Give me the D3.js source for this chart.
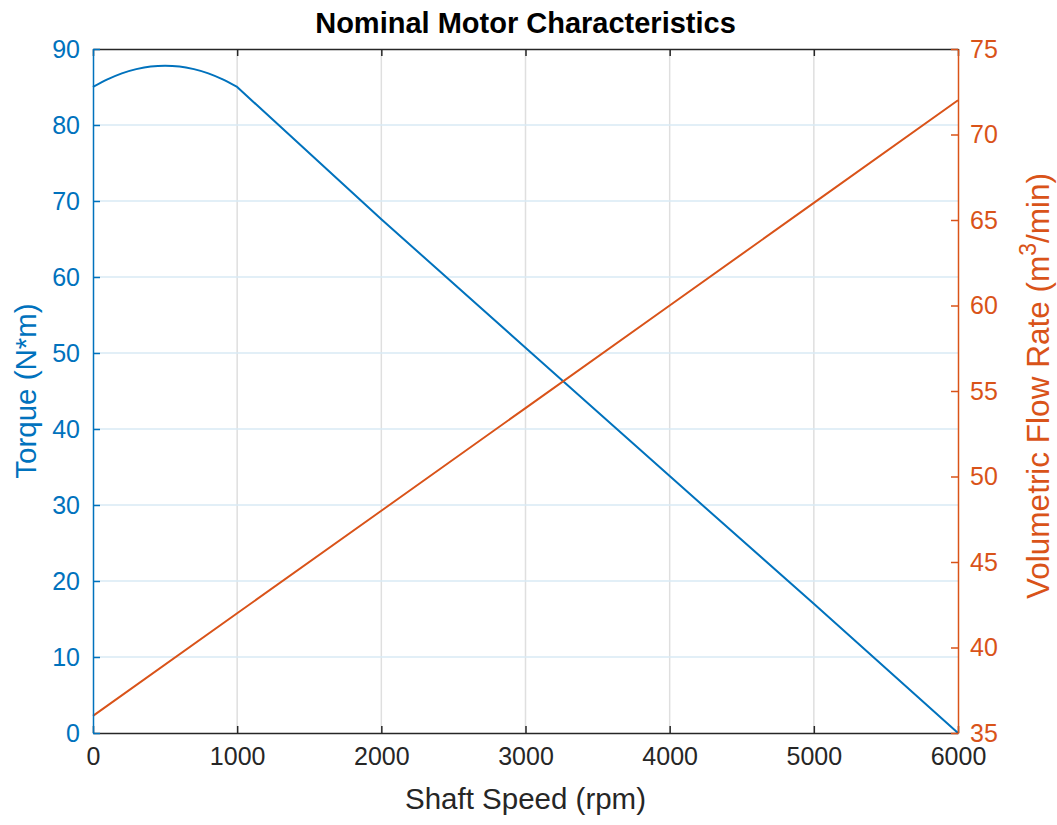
<!DOCTYPE html>
<html>
<head>
<meta charset="utf-8">
<script src="https://cdn.jsdelivr.net/npm/d3@7"></script>
<style>
  html, body { margin: 0; padding: 0; background: #fff; }
  svg { display: block; font-family: "Liberation Sans", Arial, Helvetica, sans-serif; }
</style>
</head>
<body>
<svg id="chart" width="1057" height="825"></svg>
<script>
// ---- data ----
const speed = [0, 100, 200, 300, 400, 500, 600, 700, 800, 900, 1000, 2000, 3000, 4000, 5000, 6000];
const torque = [85, 86.0, 86.8, 87.35, 87.7, 87.8, 87.7, 87.35, 86.8, 86.0, 85, 67.6, 50.7, 33.8, 17, 0];
const flowSpeed = [0, 1000, 2000, 3000, 4000, 5000, 6000];
const flow = [36, 42, 48, 54, 60, 66, 72];
const xTicks = [0, 1000, 2000, 3000, 4000, 5000, 6000];
const yLeftTicks = [0, 10, 20, 30, 40, 50, 60, 70, 80, 90];
const yRightTicks = [35, 40, 45, 50, 55, 60, 65, 70, 75];
const titleText = "Nominal Motor Characteristics";
const xLabel = "Shaft Speed (rpm)";
const yLeftLabel = "Torque (N*m)";

// ---- layout ----
const L = 93, R = 958, T = 49, B = 733;
const blue = "#0072BD", orange = "#D95319", dark = "#262626";
const tickFont = 25, labelFont = 29.5;

const svg = d3.select("#chart");
const x = d3.scaleLinear().domain([0, 6000]).range([L, R]);
const yL = d3.scaleLinear().domain([0, 90]).range([B, T]);
const yR = d3.scaleLinear().domain([35, 75]).range([B, T]);

// grid
const grid = svg.append("g");
grid.selectAll("line.v").data(xTicks.filter(d => d > 0 && d < 6000)).join("line")
  .attr("x1", d => x(d)).attr("x2", d => x(d)).attr("y1", T).attr("y2", B)
  .attr("stroke", "#dfdfdf").attr("stroke-width", 1.5);
grid.selectAll("line.h").data(yLeftTicks.filter(d => d > 0 && d < 90)).join("line")
  .attr("x1", L).attr("x2", R).attr("y1", d => yL(d)).attr("y2", d => yL(d))
  .attr("stroke", "#d9eaf5").attr("stroke-width", 1.5);

// lines
const humpIdx = speed.map((s, i) => i).filter(i => speed[i] <= 1000);
const tailIdx = speed.map((s, i) => i).filter(i => speed[i] >= 1000);
const humpLine = d3.line().x(i => x(speed[i])).y(i => yL(torque[i])).curve(d3.curveMonotoneX);
const tailLine = d3.line().x(i => x(speed[i])).y(i => yL(torque[i]));
svg.append("path").attr("d", humpLine(humpIdx) + tailLine(tailIdx).replace(/^M/, "L")).attr("fill", "none")
  .attr("stroke", blue).attr("stroke-width", 2).attr("stroke-linejoin", "round");
const lineF = d3.line().x((d, i) => x(flowSpeed[i])).y(d => yR(d));
svg.append("path").attr("d", lineF(flow)).attr("fill", "none")
  .attr("stroke", orange).attr("stroke-width", 2);

// axes
const tickLen = 7;
const xb = svg.append("g").attr("transform", `translate(0,${B})`)
  .call(d3.axisBottom(x).tickValues(xTicks).tickSizeInner(-tickLen).tickSizeOuter(0).tickPadding(14).tickFormat(d3.format("d")));
const xt = svg.append("g").attr("transform", `translate(0,${T})`)
  .call(d3.axisTop(x).tickValues(xTicks).tickSizeInner(-tickLen).tickSizeOuter(0).tickFormat(""));
[xb, xt].forEach(g => {
  g.select(".domain").attr("stroke", dark).attr("stroke-width", 1.5);
  g.selectAll(".tick line").attr("stroke", dark).attr("stroke-width", 1.5);
  g.selectAll(".tick text").attr("fill", dark).attr("font-size", tickFont).attr("font-family", "Liberation Sans, Arial, sans-serif");
});

const yl = svg.append("g").attr("transform", `translate(${L},0)`)
  .call(d3.axisLeft(yL).tickValues(yLeftTicks).tickSizeInner(-tickLen).tickSizeOuter(0).tickPadding(13));
yl.select(".domain").attr("stroke", blue).attr("stroke-width", 1.5);
yl.selectAll(".tick line").attr("stroke", blue).attr("stroke-width", 1.5);
yl.selectAll(".tick text").attr("fill", blue).attr("font-size", tickFont).attr("font-family", "Liberation Sans, Arial, sans-serif");

const yr = svg.append("g").attr("transform", `translate(${R},0)`)
  .call(d3.axisRight(yR).tickValues(yRightTicks).tickSizeInner(-tickLen).tickSizeOuter(0).tickPadding(12));
yr.select(".domain").attr("stroke", orange).attr("stroke-width", 1.5);
yr.selectAll(".tick line").attr("stroke", orange).attr("stroke-width", 1.5);
yr.selectAll(".tick text").attr("fill", orange).attr("font-size", tickFont).attr("font-family", "Liberation Sans, Arial, sans-serif");

// title & labels
svg.append("text").attr("x", (L + R) / 2).attr("y", 33).attr("text-anchor", "middle")
  .attr("font-size", 29).attr("font-weight", "bold").attr("fill", "#000").text(titleText);
svg.append("text").attr("x", (L + R) / 2).attr("y", 809).attr("text-anchor", "middle")
  .attr("font-size", labelFont).attr("fill", dark).text(xLabel);
svg.append("text").attr("transform", `translate(36,${(T + B) / 2}) rotate(-90)`).attr("text-anchor", "middle")
  .attr("font-size", labelFont).attr("fill", blue).text(yLeftLabel);
const rl = svg.append("text").attr("transform", `translate(1049,386) rotate(-90)`).attr("text-anchor", "middle")
  .attr("font-size", 31.5).attr("fill", orange);
rl.append("tspan").text("Volumetric Flow Rate (m");
rl.append("tspan").attr("dy", -13).attr("font-size", 23).text("3");
rl.append("tspan").attr("dy", 13).text("/min)");
</script>
</body>
</html>
